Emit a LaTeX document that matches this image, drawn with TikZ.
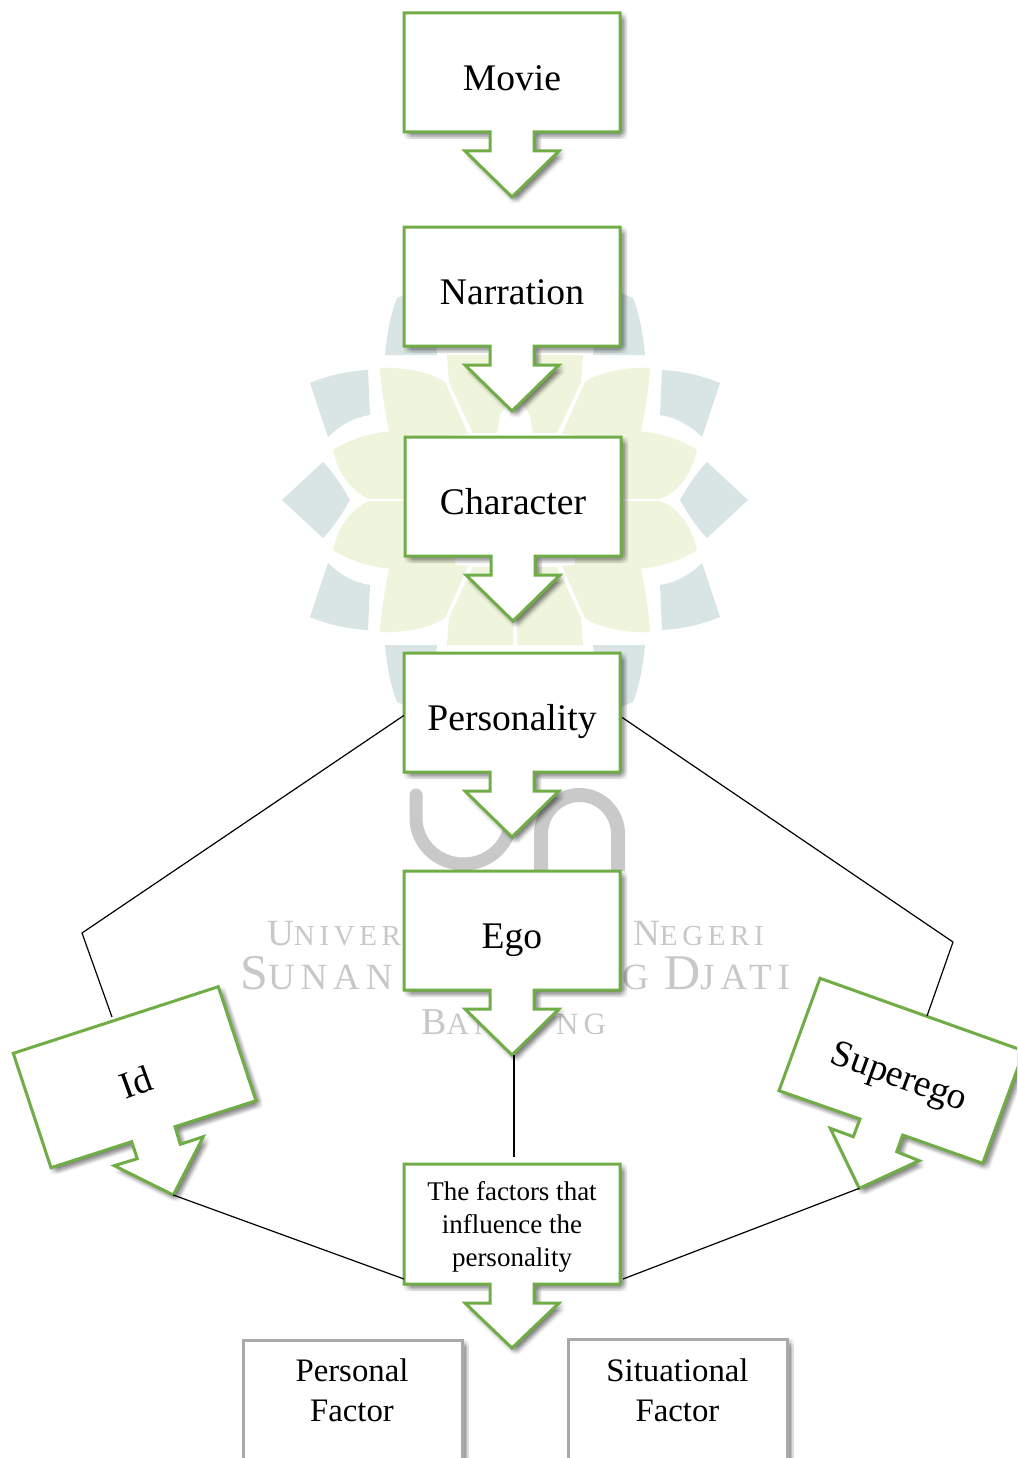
\documentclass[tikz,border=0pt]{standalone}
\usepackage{fontspec}
\setmainfont{Liberation Serif}
\definecolor{boxgreen}{HTML}{70AD47}
\definecolor{boxgrey}{HTML}{A9A9A9}
\definecolor{petal}{HTML}{EFF4DC}
\definecolor{segment}{HTML}{D9E5E5}
\definecolor{wmgrey}{HTML}{C9C9C9}
\definecolor{wmtext}{HTML}{C8C8C8}
\newcommand\softshadow[1]{%
  \foreach \dx in {0,1.75,3.5,5.25,7}{\foreach \dy in {0,1.75,3.5,5.25,7}{%
    \path[fill=black,fill opacity=.028,draw=none,xshift=\dx pt,yshift=-\dy pt] #1;}}}
\newcommand\greenshape[1]{\softshadow{#1}\path[fill=white,draw=boxgreen,line width=3pt,line join=miter] #1;}
\newcommand\flowbox[4]{%
  \begin{scope}[shift={(#2,#3)}]
    \greenshape{(-108,0)--(108,0)--(108,119)--(22,119)--(22,138)--(47,138)--(0,184)--(-47,138)--(-22,138)--(-22,119)--(-108,119)--cycle}
    \node[flowtext] (#1) at (0,59.5) {#4};
    \coordinate (#1tip) at (0,184);
  \end{scope}}
\newcommand\wmword[4]{\node[wmword,anchor=base west] (#1) at (#2) {\addfontfeature{LetterSpace=16}\fontsize{#3}{#3}\selectfont #4};}
\tikzset{
  flowtext/.style={minimum width=216pt,minimum height=119pt,inner sep=0pt,text height=36pt,text depth=0pt,font=\fontsize{37.6}{37.6}\selectfont,text=black},
  link/.style={draw=black,line width=1.2pt,line join=miter},
  wmword/.style={inner sep=0pt,text=wmtext},
  greybox/.style={fill=white,draw=boxgrey,line width=3pt},
  factortext/.style={inner sep=0pt,align=center,font=\fontsize{32.8}{40}\selectfont},
}
\begin{document}
\begin{tikzpicture}[x=1pt,y=-1pt]
\clip (0,0) rectangle (1017,1458);
\useasboundingbox (0,0) rectangle (1017,1458);
\fill[white] (0,0) rectangle (1017,1458);
% watermark: flower
\foreach \sx in {1,-1}\foreach \sy in {1,-1}{
  \begin{scope}[shift={(515,500)},xscale=\sx,yscale=\sy]
    \fill[petal] (-135,-132) .. controls (-110,-133) and (-85,-128) .. (-70,-118) -- (-47,-66) -- (-124,-60) .. controls (-130,-90) and (-134,-110) .. (-135,-132) -- cycle;
    \fill[petal] (-68,-145) -- (-2,-145) -- (-2,-105) -- (-15,-85) -- (-18,-67) -- (-42,-67) -- (-66,-118) -- cycle;
    \fill[petal] (-182,-50) .. controls (-150,-70) and (-120,-72) .. (-60,-67) -- (-60,-1) -- (-145,-1) .. controls (-165,-8) and (-178,-30) .. (-182,-50) -- cycle;
    \fill[segment] (-205,-117) .. controls (-188,-124) and (-168,-129) .. (-147,-130) -- (-145,-85) .. controls (-160,-83) and (-175,-75) .. (-187,-63) -- cycle;
    \fill[segment] (-233,0) -- (-192,-38) .. controls (-182,-28) and (-173,-14) .. (-165,0) -- cycle;
    \fill[segment] (-130,-145) .. controls (-128,-165) and (-125,-185) .. (-118,-202) -- (-85,-215) -- (-78,-145) -- cycle;
  \end{scope}}
% watermark: UIN monogram
\draw[wmgrey,line width=13pt,line cap=round] (416,795) -- (416,818) arc[start angle=180,end angle=360,x radius=47.5,y radius=-46] -- (511,800);
\draw[wmgrey,line width=14pt] (541,871) -- (541,834) arc[start angle=180,end angle=0,x radius=38.5,y radius=-39] -- (618,871);
% watermark: words
\wmword{wa}{267,945}{29}{{\fontsize{37}{37}\selectfont U}NIVER}
\wmword{wb}{633,945}{29}{{\fontsize{37}{37}\selectfont N}EGERI}
\wmword{wc}{240,989}{37}{{\fontsize{50}{50}\selectfont S}UNAN}
\wmword{wd}{622,989}{37}{G {\fontsize{50}{50}\selectfont D}JATI}
\wmword{we}{421,1034}{31}{{\fontsize{38}{38}\selectfont B}AN}
\wmword{wf}{556,1034}{31}{NG}
% main flow
\flowbox{movie}{512}{13}{Movie}
\flowbox{narration}{512}{227}{Narration}
\flowbox{character}{513}{437}{Character}
\flowbox{personality}{512}{653}{Personality}
\flowbox{ego}{512}{871}{Ego}
\begin{scope}[shift={(512,1164)}]
  \greenshape{(-108,0)--(108,0)--(108,120)--(22,120)--(22,139)--(47,139)--(0,184)--(-47,139)--(-22,139)--(-22,120)--(-108,120)--cycle}
  \node[minimum width=216pt,minimum height=120pt,inner sep=0pt,align=center,font=\fontsize{27}{33}\selectfont] (factors) at (0,63) {The factors that\\influence the\\personality};
\end{scope}
% Id
\greenshape{(13.3,1053.3)--(218.3,986.7)--(256,1100.7)--(175,1126.7)--(180.3,1144.3)--(203.3,1136.7)--(173.3,1195)--(114.3,1165.7)--(137.3,1158.7)--(131.7,1141.7)--(51,1167.7)--cycle}
\node[inner sep=0pt,rotate=20,font=\fontsize{37.6}{37.6}\selectfont] (id) at (136,1082) {Id};
% Superego
\greenshape{(820,978.3)--(1024,1051)--(982.7,1163.3)--(902.7,1135)--(896.7,1151.7)--(919,1160.7)--(859.3,1188.3)--(830.3,1128.3)--(853.3,1136.7)--(860,1119)--(779,1090.7)--cycle}
\node[inner sep=0pt,rotate=-20,font=\fontsize{37.6}{37.6}\selectfont] (superego) at (898.5,1079) {Superego};
% grey factor boxes
\softshadow{(243,1340) rectangle (462,1500)}
\path[greybox] (243,1340) rectangle (462,1500);
\node[factortext] (personal) at (352,1390) {Personal\\Factor};
\softshadow{(568,1339) rectangle (787,1500)}
\path[greybox] (568,1339) rectangle (787,1500);
\node[factortext] (situational) at (677.5,1390) {Situational\\Factor};
% connectors
\coordinate (idbend) at (82,933);
\coordinate (idtop) at (112,1017);
\coordinate (idtip) at (173.3,1195);
\coordinate (superbend) at (953,942);
\coordinate (supertop) at (927,1016);
\coordinate (supertip) at (859.3,1188.3);
\coordinate (factorwest) at (404,1279);
\coordinate (factoreast) at (623,1279);
\coordinate (factortop) at (514,1157);
\coordinate (egofoot) at (514,1055);
\draw[link] ([yshift=-3pt]personality.west) -- (idbend) -- (idtop);
\draw[link] ([xshift=2pt,yshift=-5pt]personality.east) -- (superbend) -- (supertop);
\draw[link] (idtip) -- (factorwest);
\draw[link] (supertip) -- (factoreast);
\draw[link] (egofoot) -- (factortop);
\end{tikzpicture}
\end{document}
